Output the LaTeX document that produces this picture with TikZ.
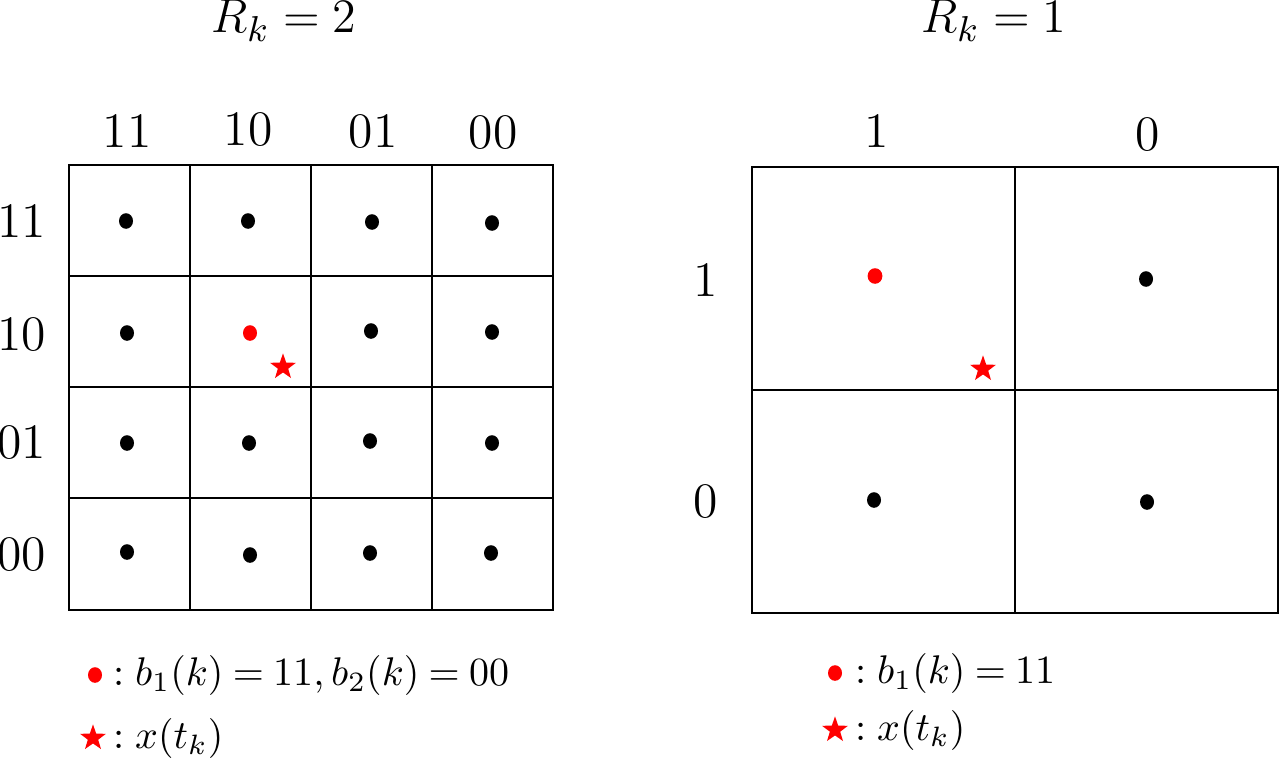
\documentclass[tikz,border=0pt]{standalone}
\usetikzlibrary{shapes.geometric}
\newcommand{\eqs}{\mskip-0.8mu=\mskip-0.8mu}
\begin{document}
\begin{tikzpicture}[x=0.25pt,y=-0.25pt,line width=0.5pt,
  lbl/.style={font=\fontsize{12.4}{15}\selectfont,inner sep=0pt},
  leg/.style={font=\fontsize{10.4}{12.5}\selectfont,inner sep=0pt},
  bdot/.style={ellipse,fill=black,minimum width=3.5pt,minimum height=3.9pt,inner sep=0pt},
  rdot/.style={bdot,fill=red},
  rstar/.style={star,star points=5,star point ratio=2.5,fill=red,minimum size=6.8pt,inner sep=0pt}]
\useasboundingbox (0,0) rectangle (1280,760);
% titles
\node[lbl,anchor=base] (t1) at (284,33) {$R_k = 2$};
\node[lbl,anchor=base] (t2) at (994,33) {$R_k = 1$};
% left grid
\draw (69,165) rectangle (553,610);
\foreach \x in {190,311,432} \draw (\x,165) -- (\x,610);
\foreach \y in {276,387,498} \draw (69,\y) -- (553,\y);
\node[lbl,anchor=base] (c11) at (127,147) {11};
\node[lbl,anchor=base] (c10) at (248,145) {10};
\node[lbl,anchor=base] (c01) at (373,147) {01};
\node[lbl,anchor=base] (c00) at (493,148) {00};
\node[lbl] (r11) at (22,221) {11};
\node[lbl] (r10) at (22,335) {10};
\node[lbl] (r01) at (22,443) {01};
\node[lbl] (r00) at (22,555) {00};
\node[bdot] (a11) at (126,221) {};
\node[bdot] (a12) at (248,221) {};
\node[bdot] (a13) at (372,222) {};
\node[bdot] (a14) at (492,223) {};
\node[bdot] (a21) at (127,333) {};
\node[rdot] (a22) at (250,333) {};
\node[bdot] (a23) at (371,331) {};
\node[bdot] (a24) at (492,332) {};
\node[bdot] (a31) at (127,443) {};
\node[bdot] (a32) at (249,443) {};
\node[bdot] (a33) at (370,441) {};
\node[bdot] (a34) at (492,443) {};
\node[bdot] (a41) at (127,552) {};
\node[bdot] (a42) at (250,555) {};
\node[bdot] (a43) at (370,553) {};
\node[bdot] (a44) at (491,553) {};
\node[rstar] (s1) at (283,367) {};
% right grid
\draw (752,167) rectangle (1278,613);
\draw (1015,167) -- (1015,613);
\draw (752,390) -- (1278,390);
\node[lbl,anchor=base] (d1) at (877,147) {1};
\node[lbl,anchor=base] (d0) at (1148,150) {0};
\node[lbl] (q1) at (706,280) {1};
\node[lbl] (q0) at (706,502) {0};
\node[rdot,minimum width=3.7pt,minimum height=3.9pt] (b11) at (875,276) {};
\node[bdot] (b12) at (1146,279) {};
\node[bdot] (b21) at (874,500) {};
\node[bdot] (b22) at (1147,502) {};
\node[rstar] (s2) at (983,369) {};
% legends
\node[rdot] (l1d) at (95,675) {};
\node[leg,anchor=west] (l1t) at (112,675) {$: b_1(k) \eqs 11, b_2(k) \eqs 00$};
\node[rstar] (l1s) at (93,738) {};
\node[leg,anchor=west] (l1x) at (112,738) {$: x(t_k)$};
\node[rdot] (l2d) at (835,673) {};
\node[leg,anchor=west] (l2t) at (854,673) {$: b_1(k) \eqs 11$};
\node[rstar] (l2s) at (835,730) {};
\node[leg,anchor=west] (l2x) at (854,730) {$: x(t_k)$};
\end{tikzpicture}
\end{document}
